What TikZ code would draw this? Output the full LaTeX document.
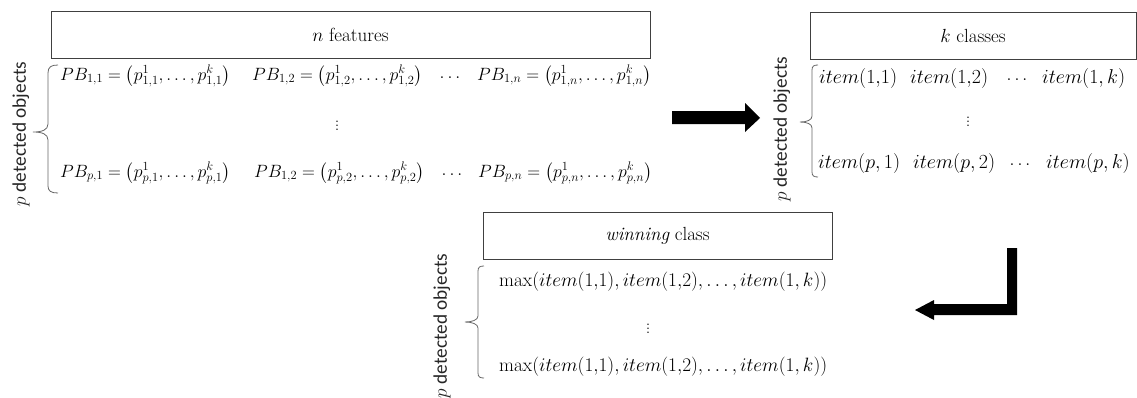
\RequirePackage{fix-cm}
\documentclass[tikz,border=0pt]{standalone}
\usepackage{amsmath}
\usepackage{fontspec}
\newfontfamily\calibri{Carlito}
\tikzset{
  hdr/.style={draw=black!75, line width=0.9pt, minimum height=47pt, inner sep=0pt, font=\fontsize{19}{21}\selectfont},
  txt/.style={font=\fontsize{17.8}{20}\selectfont, inner sep=0pt, anchor=west},
  itxt/.style={font=\fontsize{20}{22}\selectfont, inner sep=0pt, anchor=west},
  mtxt/.style={font=\fontsize{19.3}{21}\selectfont, inner sep=0pt, anchor=west},
  ctxt/.style={font=\fontsize{18}{20}\selectfont, inner sep=0pt},
  lbl/.style={font=\calibri\fontsize{19.3}{21}\selectfont, text=black!85, rotate=90, inner sep=0pt},
  brc/.style={draw=black!60, line width=0.8pt},
  blk/.style={fill=black, draw=none},
}
\begin{document}
\begin{tikzpicture}[x=1pt,y=-1pt]
\useasboundingbox (0,0) rectangle (1137,397);
% ---------- block 1 ----------
\node[hdr, minimum width=599pt] (feat) at (350.5,34.5) {$n$ features};
\node[lbl] (lab1) at (21,134) {$p$ detected objects};
\draw[brc] (58,65) .. controls (51,65) and (48,67) .. (48,73) -- (48,124)
  .. controls (48,130) and (42,132) .. (33,132)
  .. controls (42,132) and (48,134) .. (48,140) -- (48,186)
  .. controls (48,191) and (51,193) .. (58,193);
\node[txt] (r11) at (60,76) {$PB_{1,1}=\left(p_{1,1}^{1},\ldots,p_{1,1}^{k}\right)$};
\node[txt] (r12) at (252,76) {$PB_{1,2}=\left(p_{1,2}^{1},\ldots,p_{1,2}^{k}\right)$};
\node[ctxt] (r1d) at (450,78) {$\ldots$};
\node[txt] (r1n) at (477,76) {$PB_{1,n}=\left(p_{1,n}^{1},\ldots,p_{1,n}^{k}\right)$};
\node[ctxt] (v1) at (337,130) {\smash{$\vdots$}};
\node[txt] (r21) at (60,173) {$PB_{p,1}=\left(p_{p,1}^{1},\ldots,p_{p,1}^{k}\right)$};
\node[txt] (r22) at (254,173) {$PB_{1,2}=\left(p_{p,2}^{1},\ldots,p_{p,2}^{k}\right)$};
\node[ctxt] (r2d) at (452,175) {$\ldots$};
\node[txt] (r2n) at (478,173) {$PB_{p,n}=\left(p_{p,n}^{1},\ldots,p_{p,n}^{k}\right)$};
% ---------- arrow 1 ----------
\fill[blk] (672,111) -- (745,111) -- (745,103) -- (760,118) -- (745,132) -- (745,124) -- (672,124) -- cycle;
% ---------- block 2 ----------
\node[hdr, minimum width=326pt] (cls) at (973,36) {$k$ classes};
\node[lbl] (lab2) at (782,129) {$p$ detected objects};
\draw[brc] (818,65) .. controls (814,65) and (812,66) .. (812,70) -- (812,116)
  .. controls (812,120) and (807,122) .. (800,122)
  .. controls (807,122) and (812,124) .. (812,128) -- (812,172)
  .. controls (812,176) and (814,177) .. (818,177);
\node[itxt] (i11) at (819,78) {$item(1{,}1)$};
\node[itxt] (i12) at (910,78) {$item(1{,}2)$};
\node[ctxt] (i1d) at (1017,80) {$\ldots$};
\node[itxt] (i1k) at (1042,78) {$item(1,k)$};
\node[ctxt] (v2) at (968,126) {\smash{$\vdots$}};
\node[itxt] (ip1) at (818,163) {$item(p,1)$};
\node[itxt] (ip2) at (913,163) {$item(p,2)$};
\node[ctxt] (ipd) at (1020,165) {$\ldots$};
\node[itxt] (ipk) at (1046,163) {$item(p,k)$};
% ---------- arrow 2 ----------
\fill[blk] (1007,248) -- (1017,248) -- (1017,315) -- (934,315) -- (934,320) -- (915,310) -- (934,300) -- (934,304) -- (1007,304) -- cycle;
% ---------- block 3 ----------
\node[hdr, minimum width=349pt] (win) at (657.5,235.5) {$\mathit{winning}$ class};
\node[lbl] (lab3) at (442,326) {$p$ detected objects};
\draw[brc] (484,266) .. controls (480,266) and (478,267) .. (478,271) -- (478,316)
  .. controls (478,320) and (472,322) .. (465,322)
  .. controls (472,322) and (478,324) .. (478,328) -- (478,373)
  .. controls (478,377) and (480,378) .. (484,378);
\node[mtxt] (m1) at (499,282) {$\max(item(1{,}1),item(1{,}2),\ldots,item(1,k))$};
\node[ctxt] (v3) at (648,333) {\smash{$\vdots$}};
\node[mtxt] (m2) at (499,367) {$\max(item(1{,}1),item(1{,}2),\ldots,item(1,k))$};
\end{tikzpicture}
\end{document}
